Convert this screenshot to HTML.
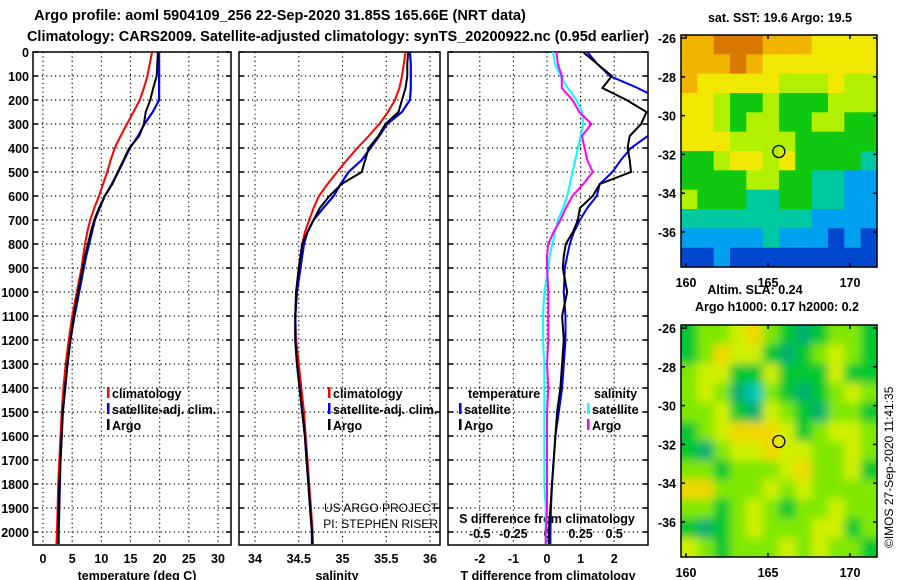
<!DOCTYPE html>
<html><head><meta charset="utf-8"><style>
html,body{margin:0;padding:0;background:#fff;}
svg{display:block;font-family:"Liberation Sans",Arial,sans-serif;}
.b{font-weight:bold;}
</style></head><body>
<svg id="fig" width="900" height="580" viewBox="0 0 900 580" xmlns="http://www.w3.org/2000/svg">
<defs>
<clipPath id="c1"><rect x="33" y="52" width="198" height="493"/></clipPath>
<clipPath id="c2"><rect x="239" y="52" width="201" height="493"/></clipPath>
<clipPath id="c3"><rect x="448" y="52" width="200" height="493"/></clipPath>
<clipPath id="cm2"><rect x="681" y="325" width="196" height="232"/></clipPath>
<filter id="blur" x="-5%" y="-5%" width="110%" height="110%"><feGaussianBlur stdDeviation="4.5"/></filter>
</defs>
<g id="titles">
<text class="b" x="280" y="20" font-size="14.5" text-anchor="middle">Argo profile: aoml 5904109_256 22-Sep-2020 31.85S 165.66E (NRT data)</text>
<text class="b" x="338" y="41" font-size="14.5" text-anchor="middle">Climatology: CARS2009. Satellite-adjusted climatology: synTS_20200922.nc (0.95d earlier)</text>
</g>
<g id="p1"></g>
<g id="p2"></g>
<g id="p3"></g>
<g id="m1"></g>
<g id="m2"></g>
<text x="0" y="0" font-size="12" transform="translate(893,548) rotate(-90)">©IMOS 27-Sep-2020 11:41:35</text>
</svg>
<script>
const depths=[0,50,100,150,200,250,300,350,400,450,500,550,600,650,700,750,800,850,900,1000,1100,1200,1300,1400,1500,1600,1700,1800,1900,2000,2050];
const tempClim=[18.7,18.3,17.9,17.3,16.6,15.5,14.4,13.3,12.3,11.6,11.0,10.3,9.6,8.8,8.1,7.6,7.2,6.9,6.6,5.8,5.0,4.4,3.9,3.5,3.2,3.0,2.8,2.6,2.5,2.4,2.3];
const tempSat=[19.9,19.9,19.9,19.9,19.9,18.8,17.4,16.3,14.9,13.9,12.9,11.8,10.6,9.7,8.9,8.4,7.9,7.4,7.0,6.2,5.4,4.7,4.2,3.8,3.4,3.2,3.0,2.9,2.8,2.7,2.7];
const tempArgo=[19.7,19.6,19.5,18.9,18.4,17.6,17.3,16.5,14.8,13.8,12.8,11.9,10.6,9.6,8.8,8.2,7.7,7.2,6.8,6.0,5.3,4.7,4.2,3.8,3.4,3.2,3.0,2.8,2.7,2.6,2.6];
const salClim=[35.72,35.70,35.68,35.65,35.60,35.52,35.42,35.30,35.17,35.05,34.94,34.83,34.73,34.67,34.62,34.57,34.54,34.52,34.50,34.47,34.46,34.47,34.50,34.53,34.56,34.58,34.60,34.62,34.64,34.66,34.66];
const salSat=[35.77,35.78,35.78,35.78,35.77,35.68,35.51,35.42,35.32,35.22,35.07,34.98,34.90,34.78,34.67,34.60,34.56,34.54,34.52,34.48,34.46,34.46,34.48,34.51,34.54,34.57,34.59,34.61,34.63,34.65,34.65];
const salArgo=[35.75,35.74,35.74,35.72,35.68,35.64,35.49,35.41,35.30,35.26,35.22,34.99,34.85,34.74,34.67,34.60,34.54,34.52,34.50,34.47,34.46,34.46,34.48,34.51,34.54,34.57,34.59,34.61,34.63,34.65,34.66];
const dTSat=[1.2,1.5,1.87,2.7,3.4,3.6,3.3,3.0,2.5,2.2,1.95,1.57,1.48,1.2,0.98,0.8,0.68,0.6,0.53,0.5,0.55,0.55,0.5,0.45,0.35,0.25,0.2,0.15,0.12,0.1,0.1];
const dTArgo=[1.07,1.5,1.93,1.65,2.37,2.96,2.8,2.46,2.4,2.46,2.5,1.57,1.36,0.98,0.92,0.77,0.56,0.5,0.47,0.6,0.45,0.5,0.45,0.4,0.3,0.25,0.2,0.15,0.1,0.05,0.05];
const dSSat=[0.044,0.06,0.1,0.155,0.22,0.26,0.27,0.25,0.23,0.21,0.19,0.17,0.15,0.12,0.08,0.06,0.04,0.02,0.01,-0.02,-0.03,-0.03,-0.02,-0.02,-0.02,-0.02,-0.02,-0.02,-0.01,-0.01,-0.01];
const dSArgo=[0.07,0.08,0.11,0.11,0.19,0.24,0.33,0.26,0.28,0.3,0.34,0.27,0.19,0.14,0.1,0.05,0.01,0.0,0.0,0.01,0.01,0.01,0.0,0.01,0.0,0.0,0.0,0.0,0.0,-0.01,-0.01];
const depthTicks=[0,100,200,300,400,500,600,700,800,900,1000,1100,1200,1300,1400,1500,1600,1700,1800,1900,2000];
const tempTicks=[0,5,10,15,20,25,30];
const salTicks=[34,34.5,35,35.5,36];
const salTickLabels=["34","34.5","35","35.5","36"];
const dTTicks=[-2,-1,0,1,2];
const dSTicks=[-0.5,-0.25,0,0.25,0.5];
const dSTickLabels=["-0.5","-0.25","0","0.25","0.5"];
const latTicks=[-26,-28,-30,-32,-34,-36];
const lonTicks=[160,165,170];
const argoLon=165.66, argoLat=-31.85;
const sstGrid=[
[6,6,7,7,7,6,6,6,5,5,5,5],
[6,6,6,7,6,5,5,5,5,5,5,5],
[6,5,5,5,5,5,4,4,4,5,4,4],
[5,5,4,3,3,4,3,3,3,4,4,4],
[5,5,4,3,4,4,3,3,4,4,3,3],
[5,5,5,4,4,4,4,3,3,3,3,3],
[3,3,4,5,5,4,5,3,3,3,3,2],
[3,3,3,3,4,4,3,3,2,2,1,1],
[4,3,3,3,2,2,3,3,2,2,1,1],
[2,2,2,2,2,2,2,2,1,1,1,1],
[1,1,1,1,1,2,1,1,1,0,1,0],
[0,0,1,0,0,0,0,0,0,0,0,0]];
const slaGrid=[
[1,2,2,3,4,2,1,0,1,2,2,1],
[1,2,4,3,3,1,0,1,2,3,2,1],
[2,3,3,1,1,3,1,1,1,3,1,1],
[2,3,2,0,-1,2,1,0,1,2,3,2],
[2,2,3,1,0,3,2,1,0,2,2,1],
[1,2,3,4,4,4,3,1,2,3,3,2],
[1,0,2,3,3,4,3,3,2,2,3,2],
[2,2,1,2,2,2,3,4,2,2,3,1],
[4,4,2,2,2,3,2,3,2,2,2,2],
[2,2,1,2,3,2,1,2,2,3,2,2],
[1,0,1,2,3,2,2,2,3,3,1,2],
[3,2,1,2,2,2,3,2,3,2,2,1]];

const NS="http://www.w3.org/2000/svg";
function mk(parent,tag,attrs,txt){const e=document.createElementNS(NS,tag);for(const k in attrs)e.setAttribute(k,attrs[k]);if(txt!==undefined)e.textContent=txt;parent.appendChild(e);return e;}
const Y=d=>52+d*0.24;
const xT=v=>43+v*5.833;
const xS=v=>255+(v-34)*87.5;
const xD=v=>547+v*33.6;
const xDS=v=>547+v*134.4;
const mapX=lon=>686+(lon-160)*16.4;
const mapY1=lat=>38+(-26-lat)*19.4;
const mapY2=lat=>328+(-26-lat)*19.4;

function frame(g,x0,x1,clip,vTicks,xf){
  for(const d of depthTicks){
    const l=mk(g,'line',{x1:x0,x2:x1,y1:Y(d),y2:Y(d),stroke:'#000','stroke-width':1.2,'stroke-dasharray':'1.2,3.2'});
    
    mk(g,'line',{x1:x0,x2:x0+5,y1:Y(d),y2:Y(d),stroke:'#000','stroke-width':1.5});
    mk(g,'line',{x1:x1-5,x2:x1,y1:Y(d),y2:Y(d),stroke:'#000','stroke-width':1.5});
  }
  for(const v of vTicks){
    const l=mk(g,'line',{x1:xf(v),x2:xf(v),y1:52,y2:545,stroke:'#000','stroke-width':1.2,'stroke-dasharray':'1.2,3.2'});
    
  }
  const r=mk(g,'rect',{x:x0,y:52,width:x1-x0,height:493,fill:'none',stroke:'#000','stroke-width':1.5});
  
}
function line(g,vals,xf,color,name,clip,w){
  const pts=vals.map((v,i)=>xf(v).toFixed(1)+','+Y(depths[i]).toFixed(1)).join(' ');
  const p=mk(g,'polyline',{points:pts,fill:'none',stroke:color,'stroke-width':w||2,'clip-path':'url(#'+clip+')'});
  
  
}
function legend(g,x,y,color,label){
  const lg=mk(g,'g',{});
  
  
  mk(lg,'rect',{x:x,y:y-11,width:2.5,height:11,fill:color});
  mk(lg,'text',{x:x+5,y:y,'font-size':12.5,'font-weight':'bold'},label);
}
function txt(g,x,y,s,anchor,size,name,bold){
  const t=mk(g,'text',{x:x,y:y,'font-size':size||12.5,'text-anchor':anchor||'middle','font-weight':bold===false?'normal':'bold'},s);
  return t;
}

const p1=document.getElementById('p1');
frame(p1,33,231,'c1',tempTicks,xT);
for(const d of depthTicks) txt(p1,29,Y(d)+5,String(d),'end',12.5,'depth-tick-label');
for(const v of tempTicks) txt(p1,xT(v),563,String(v),'middle',12.5,'temperature-tick-label');
txt(p1,137,580,'temperature (deg C)','middle',12.5,'temperature-axis-title');
line(p1,tempClim,xT,'#ff0000','temperature-climatology-line','c1');
line(p1,tempSat,xT,'#0000ff','temperature-satellite-line','c1',2.2);
line(p1,tempArgo,xT,'#000000','temperature-argo-line','c1');
legend(p1,107,398,'#ff0000','climatology');
legend(p1,107,414,'#0000ff','satellite-adj. clim.');
legend(p1,107,430,'#000000','Argo');

const p2=document.getElementById('p2');
frame(p2,239,440,'c2',salTicks,xS);
salTicks.forEach((v,i)=>txt(p2,xS(v),563,salTickLabels[i],'middle',12.5,'salinity-tick-label'));
txt(p2,337,580,'salinity','middle',12.5,'salinity-axis-title');
line(p2,salClim,xS,'#ff0000','salinity-climatology-line','c2');
line(p2,salSat,xS,'#0000ff','salinity-satellite-line','c2',2.2);
line(p2,salArgo,xS,'#000000','salinity-argo-line','c2');
legend(p2,328,398,'#ff0000','climatology');
legend(p2,328,414,'#0000ff','satellite-adj. clim.');
legend(p2,328,430,'#000000','Argo');
txt(p2,438,512,'US ARGO PROJECT','end',12,'project-credit',false);
txt(p2,438,528,'PI: STEPHEN RISER','end',12,'pi-credit',false);

const p3=document.getElementById('p3');
frame(p3,448,648,'c3',dTTicks,xD);
dTTicks.forEach(v=>txt(p3,xD(v),563,String(v),'middle',12.5,'t-diff-tick-label'));
txt(p3,548,580,'T difference from climatology','middle',12.5,'t-diff-axis-title');
txt(p3,547,523,'S difference from climatology','middle',12.5,'s-diff-axis-title');
dSTicks.forEach((v,i)=>txt(p3,xDS(v),538,dSTickLabels[i],'middle',12.5,'s-diff-tick-label'));
line(p3,dSSat,xDS,'#00ffff','s-diff-satellite-line','c3');
line(p3,dSArgo,xDS,'#ff00ff','s-diff-argo-line','c3');
line(p3,dTSat,xD,'#0000ff','t-diff-satellite-line','c3');
line(p3,dTArgo,xD,'#000000','t-diff-argo-line','c3');
txt(p3,468,398,'temperature','start',12.5,'temperature-legend-heading');
legend(p3,459,414,'#0000ff','satellite');
legend(p3,459,430,'#000000','Argo');
txt(p3,594,398,'salinity','start',12.5,'salinity-legend-heading');
legend(p3,587,414,'#00ffff','satellite');
legend(p3,587,430,'#ff00ff','Argo');

const sstCols=['#0048d0','#00a0f0','#00c8a0','#10c810','#b0f000','#f0e800','#f0b400','#d87800'];
const slaCols={'-1':'#00c8b8','0':'#00b070','1':'#00c830','2':'#80e800','3':'#d0f000','4':'#f0d800','5':'#f0a000'};
function drawMap(gid,grid,colfn,yf,top,blurred,titleLines){
  const g=document.getElementById(gid);
  const cg=mk(g,'g',blurred?{'clip-path':'url(#cm2)'}:{});
  const inner=mk(cg,'g',blurred?{filter:'url(#blur)'}:{});
  const cw=196/grid[0].length, ch=232/grid.length;
  grid.forEach((row,r)=>row.forEach((v,c)=>{
    const cell=mk(inner,'rect',{x:(681+c*cw-(blurred&&c==0?10:0)).toFixed(1),y:(top+r*ch-(blurred&&r==0?10:0)).toFixed(1),width:(cw+0.6+(blurred&&(c==0||c==row.length-1)?10:0)).toFixed(1),height:(ch+0.6+(blurred&&(r==0||r==grid.length-1)?10:0)).toFixed(1),fill:colfn(v)});
    
    
  }));
  const fr=mk(g,'rect',{x:681,y:top,width:196,height:232,fill:'none',stroke:'#000','stroke-width':1.5});
  
  for(const la of latTicks){
    mk(g,'line',{x1:681,x2:685,y1:yf(la),y2:yf(la),stroke:'#000','stroke-width':1.5});
    mk(g,'line',{x1:873,x2:877,y1:yf(la),y2:yf(la),stroke:'#000','stroke-width':1.5});
    txt(g,676,yf(la)+5,String(la),'end',12.5,'latitude-tick-label');
  }
  for(const lo of lonTicks){
    mk(g,'line',{x1:mapX(lo),x2:mapX(lo),y1:top,y2:top+4,stroke:'#000','stroke-width':1.5});
    mk(g,'line',{x1:mapX(lo),x2:mapX(lo),y1:top+228,y2:top+232,stroke:'#000','stroke-width':1.5});
    txt(g,mapX(lo),top+252,String(lo),'middle',12.5,'longitude-tick-label');
  }
  const c=mk(g,'circle',{cx:mapX(argoLon),cy:yf(argoLat),r:6,fill:'none',stroke:'#000','stroke-width':1.3});
  
  titleLines.forEach(t=>txt(g,t[0],t[1],t[2],'middle',12.5,t[3]));
}
drawMap('m1',sstGrid,v=>sstCols[v],mapY1,35,false,[[780,22,'sat. SST: 19.6 Argo: 19.5','sst-map-title']]);
drawMap('m2',slaGrid,v=>slaCols[String(v)],mapY2,325,true,[[755,294,'Altim. SLA: 0.24','sla-map-title'],[777,311,'Argo h1000: 0.17 h2000: 0.2','argo-height-title']]);
</script>
</body></html>
